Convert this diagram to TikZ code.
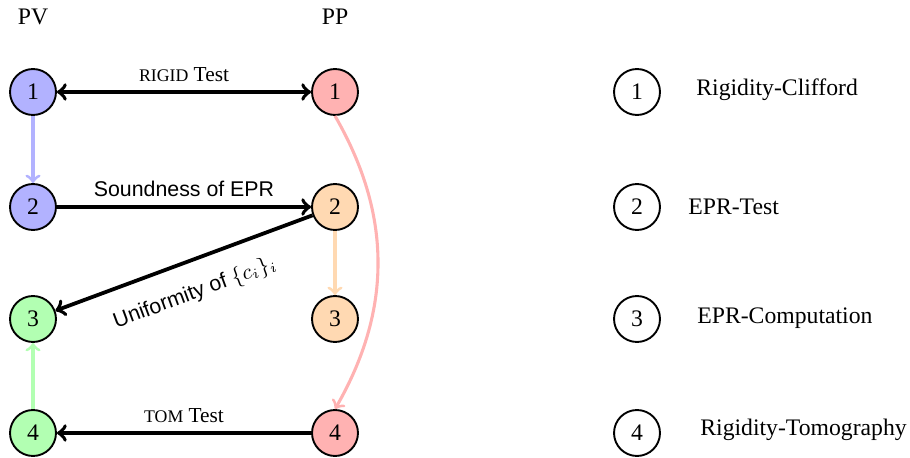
\documentclass[tikz,border=0pt]{standalone}
\usepackage{fontspec}
\setmainfont{Liberation Serif}
\setsansfont{Liberation Sans}
\usetikzlibrary{arrows}
\usetikzlibrary{positioning}

\newcommand{\fakesc}[1]{{\fontsize{7.5}{8}\selectfont #1}}

\begin{document}
\begin{tikzpicture}[->,>=to,x=0.422pt,y=-0.422pt,
    st node/.style={circle,draw,thick,minimum size=19.4pt,inner sep=0pt},
    key node/.style={st node,fill=white},
    main link/.style={line width=1.6pt},
    flow link/.style={line width=1.3pt}
    ]
    \useasboundingbox (0,0) rectangle (910,458);

    \node (pv) at (33,17) {PV};
    \node (pp) at (335,17) {PP};

    \node[st node,fill=blue!30](v1) at (33,92){1};
    \node[st node,fill=blue!30](v2) at (33,207){2};
    \node[st node,fill=green!30](v3) at (33,319){3};
    \node[st node,fill=green!30](v4) at (33,433){4};

    \node[st node,fill=red!30](p1) at (335,92){1};
    \node[st node,fill=orange!30](p2) at (335,207){2};
    \node[st node,fill=orange!30](p3) at (335,319){3};
    \node[st node,fill=red!30](p4) at (335,433){4};

    % legend
    \node[key node](k1) at (637,92){1};
    \node[key node](k2) at (637,207){2};
    \node[key node](k3) at (637,319){3};
    \node[key node](k4) at (637,433){4};
    \node[anchor=west](t1) at (688,90){Rigidity-Clifford};
    \node[anchor=west](t2) at (680,207){EPR-Test};
    \node[anchor=west](t3) at (689,318){EPR-Computation};
    \node[anchor=west](t4) at (692,430){Rigidity-Tomography};

    \path[every node/.style={font=\small}]
    (v1) edge[main link,<->] node[above]{\fakesc{RIGID} Test} (p1)
    (v2) edge[main link] node[above]{\sffamily Soundness of EPR} (p2)
    (p2) edge[main link] node[below=5pt,sloped,pos=0.5]{\sffamily Uniformity of $\{c_{i}\}_{i}$} (v3)
    (p4) edge[main link] node[above]{\fakesc{TOM} Test} (v4);

    \draw[flow link,blue!30] (v1) -- (v2);
    \draw[flow link,green!30] (v4) -- (v3);
    \draw[flow link,orange!30] (p2) -- (p3);
    \draw[flow link,red!30] (p1.south) to[bend left=30] (p4.north);
\end{tikzpicture}
\end{document}
